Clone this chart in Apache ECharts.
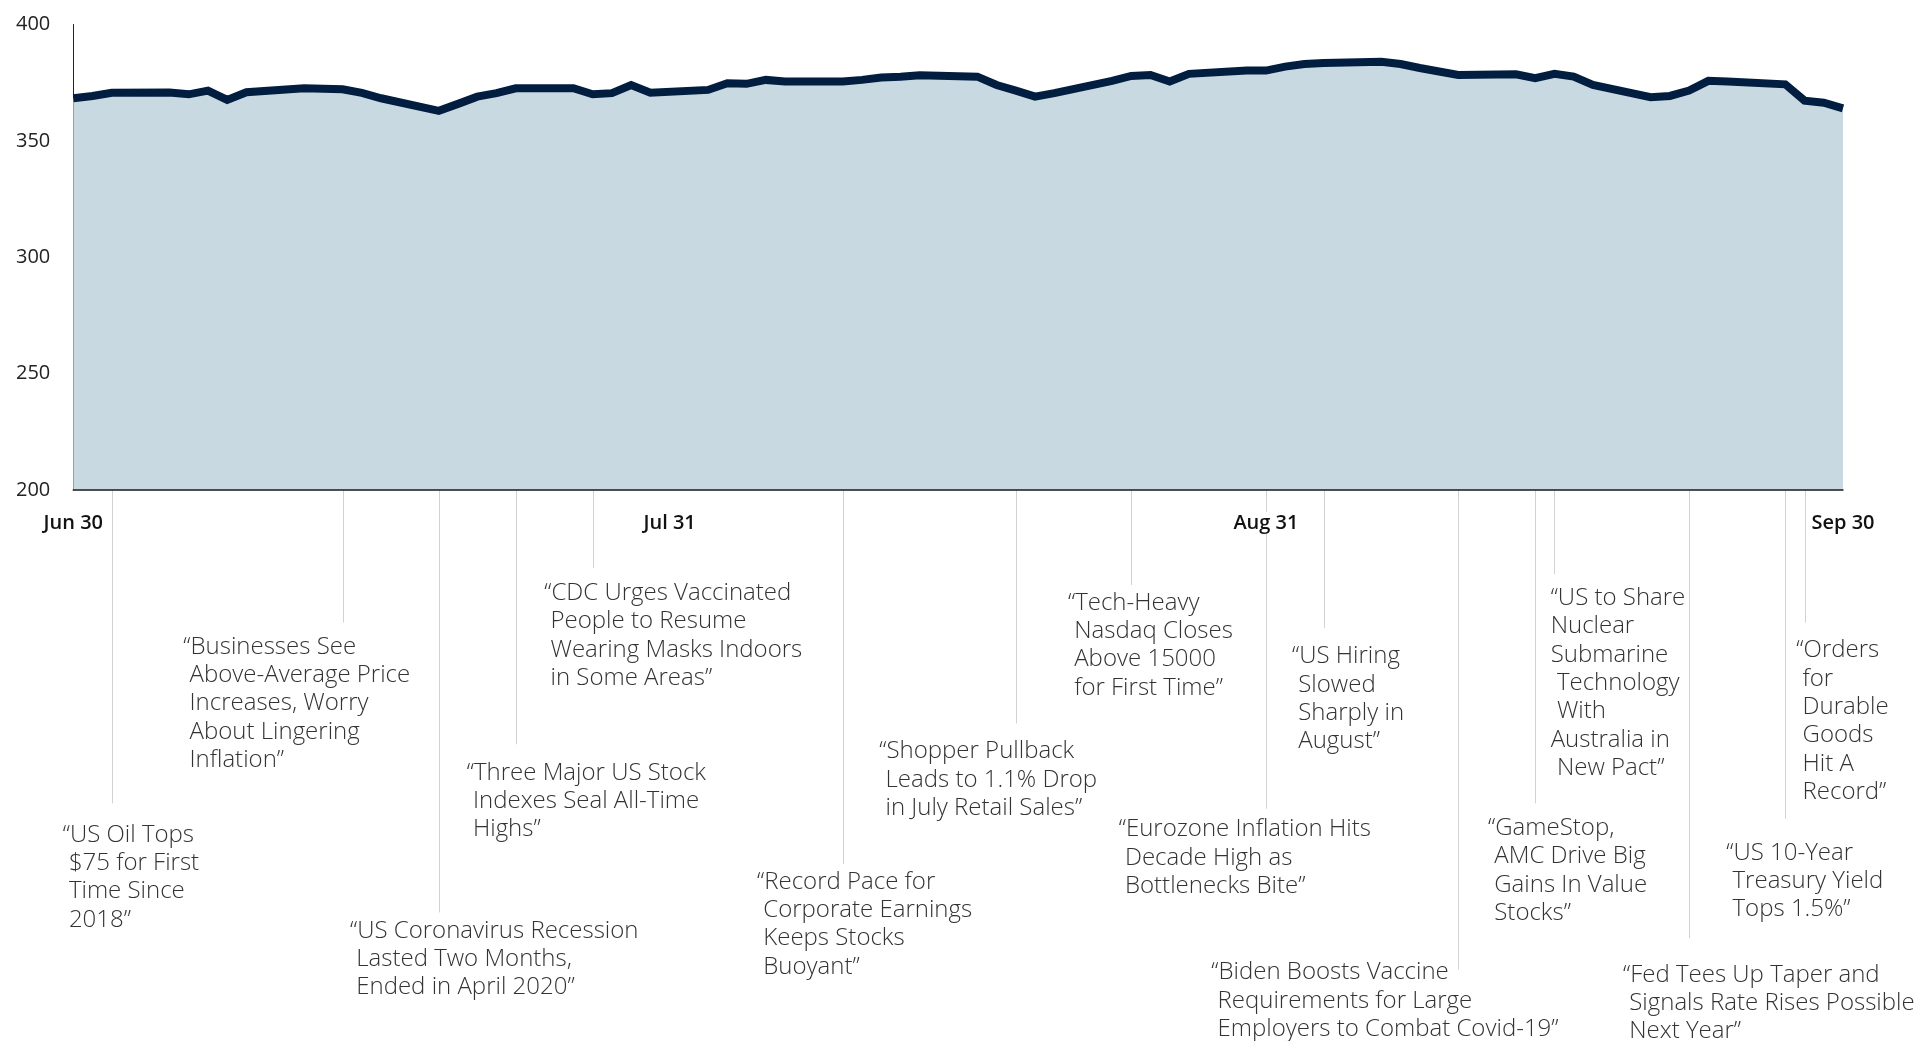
<!DOCTYPE html>
<html>
<head>
<meta charset="utf-8">
<script src="https://cdn.jsdelivr.net/npm/echarts@6/dist/echarts.min.js"></script>
<style>
html,body{margin:0;padding:0;background:#fff;}
#chart{width:1923px;height:1041px;}
</style>
</head>
<body>
<div id="chart"></div>
<script>
// ---- Data ----
const tradeDates = ['2021-06-30','2021-07-01','2021-07-02','2021-07-05','2021-07-06','2021-07-07','2021-07-08','2021-07-09',
'2021-07-12','2021-07-13','2021-07-14','2021-07-15','2021-07-16','2021-07-19','2021-07-20','2021-07-21','2021-07-22','2021-07-23',
'2021-07-26','2021-07-27','2021-07-28','2021-07-29','2021-07-30','2021-08-02','2021-08-03','2021-08-04','2021-08-05','2021-08-06',
'2021-08-09','2021-08-10','2021-08-11','2021-08-12','2021-08-13','2021-08-16','2021-08-17','2021-08-18','2021-08-19','2021-08-20',
'2021-08-23','2021-08-24','2021-08-25','2021-08-26','2021-08-27','2021-08-30','2021-08-31','2021-09-01','2021-09-02','2021-09-03',
'2021-09-06','2021-09-07','2021-09-08','2021-09-09','2021-09-10','2021-09-13','2021-09-14','2021-09-15','2021-09-16','2021-09-17',
'2021-09-20','2021-09-21','2021-09-22','2021-09-23','2021-09-24','2021-09-27','2021-09-28','2021-09-29','2021-09-30'];

const indexValues = [368.3,369.3,370.7,370.8,370.0,371.6,367.6,370.9,
372.6,372.4,372.2,370.6,368.3,362.9,365.9,369.0,370.5,372.6,
372.6,370.0,370.5,374.0,370.7,371.9,374.8,374.5,376.2,375.5,
375.5,376.2,377.2,377.6,378.2,377.6,374.0,371.6,369.0,370.5,
375.8,377.9,378.3,375.5,378.8,380.2,380.2,381.9,383.0,383.5,
384.0,383.0,381.3,379.8,378.3,378.6,376.9,378.8,377.6,374.0,
368.8,369.3,371.6,375.8,375.5,374.3,367.3,366.4,364.0];

const xTickDates = ['2021-06-30','2021-07-31','2021-08-31','2021-09-30'];
const yTicks = [200, 250, 300, 350, 400];
const monthNames = ['Jan','Feb','Mar','Apr','May','Jun','Jul','Aug','Sep','Oct','Nov','Dec'];

const eventDates = ['2021-07-02','2021-07-14','2021-07-19','2021-07-23','2021-07-27','2021-08-09','2021-08-18','2021-08-24',
'2021-08-31','2021-09-03','2021-09-10','2021-09-14','2021-09-15','2021-09-22','2021-09-27','2021-09-28'];

const eventTexts = [
 ['\u201CUS Oil Tops',' $75 for First',' Time Since',' 2018\u201D'],
 ['\u201CBusinesses See',' Above-Average Price',' Increases, Worry',' About Lingering',' Inflation\u201D'],
 ['\u201CUS Coronavirus Recession',' Lasted Two Months,',' Ended in April 2020\u201D'],
 ['\u201CThree Major US Stock',' Indexes Seal All-Time',' Highs\u201D'],
 ['\u201CCDC Urges Vaccinated',' People to Resume',' Wearing Masks Indoors',' in Some Areas\u201D'],
 ['\u201CRecord Pace for',' Corporate Earnings',' Keeps Stocks',' Buoyant\u201D'],
 ['\u201CShopper Pullback',' Leads to 1.1% Drop',' in July Retail Sales\u201D'],
 ['\u201CTech-Heavy',' Nasdaq Closes',' Above 15000',' for First Time\u201D'],
 ['\u201CEurozone Inflation Hits',' Decade High as',' Bottlenecks Bite\u201D'],
 ['\u201CUS Hiring',' Slowed',' Sharply in',' August\u201D'],
 ['\u201CBiden Boosts Vaccine',' Requirements for Large',' Employers to Combat Covid-19\u201D'],
 ['\u201CGameStop,',' AMC Drive Big',' Gains In Value',' Stocks\u201D'],
 ['\u201CUS to Share','Nuclear','Submarine',' Technology',' With','Australia in',' New Pact\u201D'],
 ['\u201CFed Tees Up Taper and',' Signals Rate Rises Possible',' Next Year\u201D'],
 ['\u201CUS 10-Year',' Treasury Yield',' Tops 1.5%\u201D'],
 ['\u201COrders',' for',' Durable',' Goods',' Hit A',' Record\u201D']
];

// ---- Layout (pixel offsets of annotation leader lines and text blocks, relative to the axis point) ----
const annoLayout = [
 {len:313.3, dx:-49.1,  dy:330.7},
 {len:132.6, dx:-159.3, dy:142.8},
 {len:422.4, dx:-88.8,  dy:426.9},
 {len:254.3, dx:-49.0,  dy:268.8},
 {len:78.2,  dx:-48.4,  dy:89.2},
 {len:374.1, dx:-85.7,  dy:377.9},
 {len:233.5, dx:-136.6, dy:247.3},
 {len:95.0,  dx:-63.3,  dy:98.8},
 {len:318.7, dx:-147.2, dy:325.3},
 {len:138.0, dx:-31.6,  dy:152.5},
 {len:479.7, dx:-247.0, dy:468.4},
 {len:313.3, dx:-47.2,  dy:324.2},
 {len:84.3,  dx:-3.8,   dy:94.2},
 {len:448.2, dx:-66.1,  dy:470.9},
 {len:328.7, dx:-59.0,  dy:348.6},
 {len:132.6, dx:-8.2,   dy:146.4}
];

function ts(s){ const p = s.split('-').map(Number); return Date.UTC(p[0], p[1]-1, p[2]); }
const t0 = ts(xTickDates[0]);
function dayOf(s){ return Math.round((ts(s) - t0) / 86400000); }
function dayLabel(n){ const d = new Date(t0 + n * 86400000); return monthNames[d.getUTCMonth()] + ' ' + d.getUTCDate(); }

const seriesData = tradeDates.map((d,i)=>[dayOf(d), indexValues[i]]);
const eventData = eventDates.map((d,i)=>[dayOf(d), yTicks[0], i]);
const xTickDays = xTickDates.map(dayOf);

const chart = echarts.init(document.getElementById('chart'), null, {renderer:'canvas'});

const option = {
  backgroundColor:'#fff',
  animation:false,
  grid:{left:73.3, right:80, top:24.5, bottom:551, containLabel:false},
  xAxis:{
    type:'value',
    min: xTickDays[0],
    max: xTickDays[xTickDays.length-1],
    z: 10,
    axisLine:{show:true, lineStyle:{color:'#1a1a1a', width:1.5}},
    axisTick:{show:false},
    splitLine:{show:false},
    axisLabel:{
      customValues: xTickDays,
      showMinLabel:true, showMaxLabel:true, hideOverlap:false,
      formatter:function(v){ return dayLabel(v); },
      fontFamily:'Open Sans', fontSize:20, fontWeight:600, color:'#111',
      margin:22, backgroundColor:'#fff', padding:[1,2]
    }
  },
  yAxis:{
    type:'value',
    min: yTicks[0], max: yTicks[yTicks.length-1], interval: 50,
    axisLine:{show:true, lineStyle:{color:'#222', width:1}},
    axisTick:{show:false},
    splitLine:{show:false},
    axisLabel:{fontFamily:'Open Sans', fontSize:20, color:'#222', margin:23}
  },
  series:[
    {
      type:'line',
      data: seriesData,
      showSymbol:false,
      z:3,
      lineStyle:{color:'#011e41', width:8, join:'miter', cap:'butt'},
      areaStyle:{color:'#c9d9e1', opacity:1, origin:'start'}
    },
    {
      type:'custom',
      coordinateSystem:'cartesian2d',
      z:1,
      clip:false,
      silent:true,
      data: eventData,
      renderItem:function(params, api){
        const i = api.value(2);
        const p = api.coord([api.value(0), api.value(1)]);
        const L = annoLayout[i];
        const x = Math.round(p[0]) + 0.5;
        return {
          type:'group',
          children:[
            {type:'line', shape:{x1:x, y1:p[1], x2:x, y2:p[1] + L.len}, style:{stroke:'#d2d2d2', lineWidth:1}},
            {type:'text', x:p[0] + L.dx, y:p[1] + L.dy,
             style:{text: eventTexts[i].join('\n'), fill:'#333', fontFamily:'Open Sans', fontWeight:300, fontSize:24,
                    lineHeight:28.3, align:'left', verticalAlign:'top'}}
          ]
        };
      }
    }
  ]
};
chart.setOption(option);
</script>
</body>
</html>
